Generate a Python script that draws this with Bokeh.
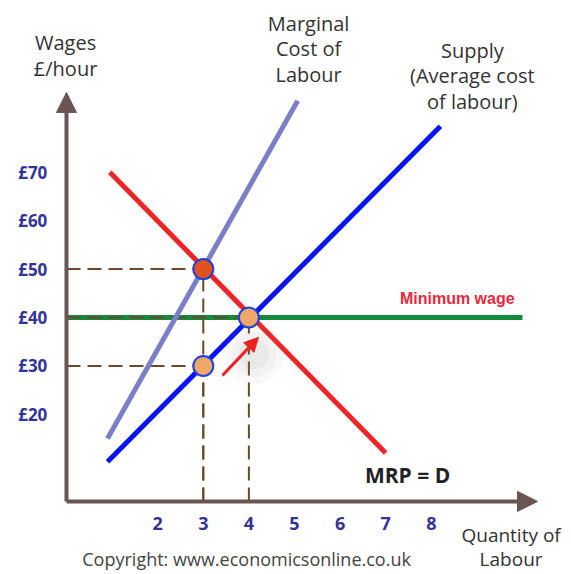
from bokeh.plotting import figure
from bokeh.models import Arrow, NormalHead
from bokeh.core.properties import value
from bokeh.embed import file_html
from bokeh.resources import INLINE

# ---- data ----
mrp_x = [0.95, 7.0]
mrp_y = [70, 12]
supply_x = [0.9, 8.2]
supply_y = [10.2, 79.5]
mcl_x = [0.9, 5.07]
mcl_y = [15, 84.8]
min_wage = 40
min_wage_x = [0, 10.0]

eq_x = [3, 3, 4]
eq_y = [50, 30, 40]
eq_fill = ["#e0531f", "#f0a868", "#f0a868"]

x_ticks = [2, 3, 4, 5, 6, 7, 8]
x_tick_labels = ["2", "3", "4", "5", "6", "7", "8"]
y_ticks = [70, 60, 50, 40, 30, 20]
y_tick_labels = ["£70", "£60", "£50", "£40", "£30", "£20"]

axis_origin = (0, 2)
x_axis_end = 10.33
y_axis_end = 86.5

arrow_start = (3.42, 28)
arrow_end = (4.21, 35.9)

# ---- figure ----
p = figure(width=571, height=574, x_range=(-1.447, 11.075), y_range=(-13.10, 105.50),
           output_backend="svg", toolbar_location=None, min_border=0,
           x_axis_type=None, y_axis_type=None)
p.grid.visible = False
p.outline_line_color = None

FONT = value("Open Sans")
TICK_COL = "#33339a"
AX_COL = "#6b5454"
DASH_COL = "#6b4a2b"

# minimum wage line
p.line(min_wage_x, [min_wage, min_wage], line_color="#138a3a", line_width=5)

# dashed guides
x0, y0 = axis_origin
for ex, ey in zip(eq_x, eq_y):
    p.line([x0, ex], [ey, ey], line_color=DASH_COL, line_width=2, line_dash="14 7")
    p.line([ex, ex], [y0, ey], line_color=DASH_COL, line_width=2, line_dash="14 7")

# curves
p.line(mcl_x, mcl_y, line_color="#7b7fc8", line_width=5)
p.line(mrp_x, mrp_y, line_color="#f02424", line_width=5)
p.line(supply_x, supply_y, line_color="#0a14f0", line_width=5)

# shadow near arrow
for s, a in [(60, 0.05), (45, 0.06), (30, 0.07)]:
    p.scatter([arrow_end[0] - 0.1], [arrow_end[1] - 3.5], size=s, fill_color="#808080",
              fill_alpha=a, line_color=None)

# points
p.scatter(eq_x, eq_y, size=20, fill_color=eq_fill, line_color="#2040e0", line_width=2)

# red arrow
p.add_layout(Arrow(end=NormalHead(size=14, fill_color="#f02020", line_color="#f02020"),
                   x_start=arrow_start[0], y_start=arrow_start[1],
                   x_end=arrow_end[0], y_end=arrow_end[1],
                   line_color="#f02020", line_width=3))

# axes arrows
p.add_layout(Arrow(end=NormalHead(size=20, fill_color=AX_COL, line_color=AX_COL),
                   x_start=x0, y_start=y0, x_end=x0, y_end=y_axis_end,
                   line_color=AX_COL, line_width=4))
p.add_layout(Arrow(end=NormalHead(size=20, fill_color=AX_COL, line_color=AX_COL),
                   x_start=x0, y_start=y0, x_end=x_axis_end, y_end=y0,
                   line_color=AX_COL, line_width=4))

# tick labels
p.text(x_ticks, [-2.6] * len(x_ticks), text=x_tick_labels, text_font=FONT,
       text_font_style="bold", text_font_size="18px", text_color=TICK_COL,
       text_align="center", text_baseline="middle")
p.text([-0.42] * len(y_ticks), y_ticks, text=y_tick_labels, text_font=FONT,
       text_font_style="bold", text_font_size="17px", text_color=TICK_COL,
       text_align="right", text_baseline="middle")

def label(x, ys, lines, size="20px", color="#333333", style="normal", font=FONT):
    p.text([x] * len(lines), ys, text=lines, text_font=font, text_font_size=size,
           text_color=color, text_font_style=style, text_align="center",
           text_baseline="middle")

label(-0.02, [96.8, 91.4], ["Wages", "£/hour"])
label(5.31, [100.7, 95.5, 90.2], ["Marginal", "Cost of", "Labour"])
label(8.9, [95.2, 90.0, 84.6], ["Supply", "(Average cost", "of labour)"])
label(8.57, [43.9], ["Minimum wage"], size="16px", color="#e8283c", style="bold",
      font=value("Liberation Sans"))
label(7.48, [7.36], ["MRP = D"], size="21px", color="#222222", style="bold")
label(9.75, [-5.0, -10.0], ["Quantity of", "Labour"], size="19px")
label(3.95, [-10.0], ["Copyright: www.economicsonline.co.uk"], size="18px", color="#444444")

open("out.html", "w").write(file_html(p, INLINE))
